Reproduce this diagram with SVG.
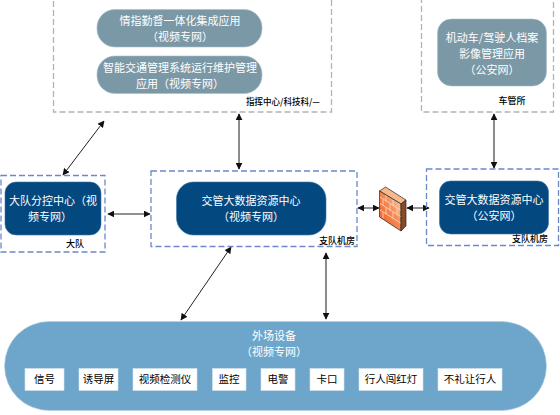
<svg xmlns="http://www.w3.org/2000/svg" width="560" height="415" viewBox="0 0 560 415">
<style>
text{font-family:"Noto Sans CJK SC","Liberation Sans",sans-serif;text-anchor:middle}
.g{fill:none;stroke:#b3b3b3;stroke-width:1.3;stroke-dasharray:6 3}
.b{fill:none;stroke:#6d87c9;stroke-width:1.3;stroke-dasharray:6 3}
.app{fill:#7b98a6;stroke:#a9bdc8;stroke-width:.6}
.core{fill:#03487f;stroke:#3d76a8;stroke-width:.6}
.w{fill:#fff;font-size:11px}
.k{fill:#000;font-size:9px;font-weight:500}
.it{fill:#fff;stroke:#d5e3ee;stroke-width:.6}
.t{fill:#000;font-size:10.5px}
.c{fill:none;stroke:#666;stroke-width:1.5;marker-start:url(#a);marker-end:url(#a)}
.d{fill:none;stroke:#222;stroke-width:1;marker-start:url(#a);marker-end:url(#a)}
</style>
<defs>
<marker id="a" viewBox="0 0 10 10" refX="9" refY="5" markerWidth="7" markerHeight="7" markerUnits="userSpaceOnUse" orient="auto-start-reverse"><path d="M0 0L10 5L0 10Z" fill="#111"/></marker>
<linearGradient id="fw" x1="0" y1="1" x2="1" y2="0"><stop offset="0" stop-color="#f0581e"/><stop offset=".55" stop-color="#f58a55"/><stop offset="1" stop-color="#f6e6c8"/></linearGradient>
</defs>
<g id="connectors">
<path class="d" d="M104 121L63 175"/>
<path class="c" d="M239 114V169"/>
<path class="d" d="M108 214H150"/>
<path class="d" d="M231 247L181 320"/>
<path class="c" d="M326 253V319"/>
<path class="c" d="M494 114V168"/>
<path class="d" d="M358 208H379"/>
<path class="d" d="M407 208H429"/>
</g>
<g id="zone-command">
<rect class="g" x="53.500" y="-1" width="278" height="113"/>
<text class="k" x="283" y="105" textLength="74" lengthAdjust="spacingAndGlyphs">指挥中心/科技科/—</text>
</g>
<g id="node-integrated">
<rect class="app" x="97" y="9.500" width="165" height="37.500" rx="18"/>
<text class="w" x="180" y="25">情指勤督一体化集成应用</text>
<text class="w" x="180" y="41">（视频专网）</text>
</g>
<g id="node-its">
<rect class="app" x="97" y="56" width="165" height="37.500" rx="18"/>
<text class="w" x="180" y="72">智能交通管理系统运行维护管理</text>
<text class="w" x="180" y="88">应用（视频专网）</text>
</g>
<g id="zone-vehicle">
<rect class="g" x="421.500" y="-1" width="132" height="113"/>
<text class="k" x="512" y="104">车管所</text>
</g>
<g id="node-archive">
<rect class="app" x="437.500" y="19" width="109" height="67" rx="14"/>
<text class="w" x="492" y="42">机动车/驾驶人档案</text>
<text class="w" x="492" y="58">影像管理应用</text>
<text class="w" x="492" y="74">（公安网）</text>
</g>
<g id="zone-brigade">
<rect class="b" x="1" y="175.500" width="104" height="76.500"/>
<text class="k" x="75" y="247">大队</text>
</g>
<g id="node-brigade">
<rect class="core" x="5" y="182" width="96" height="53" rx="11"/>
<text class="w" x="53" y="205">大队分控中心（视</text>
<text class="w" x="50" y="221">频专网）</text>
</g>
<g id="zone-center">
<rect class="b" x="151" y="171" width="206" height="75.500"/>
<text class="k" x="337" y="244">支队机房</text>
</g>
<g id="node-center">
<rect class="core" x="176.500" y="182" width="149.500" height="53" rx="17"/>
<text class="w" x="251" y="205">交管大数据资源中心</text>
<text class="w" x="251" y="221">（视频专网）</text>
</g>
<g id="firewall">
<path d="M379.500 191L385.500 187L406 200L401 204Z" fill="#f6b98e" stroke="#222" stroke-width=".7"/>
<path d="M379.500 191L401 204V231L379.500 217Z" fill="url(#fw)" stroke="#222" stroke-width=".7"/>
<path d="M401 204L406 200V226L401 231Z" fill="#8a4a22" stroke="#222" stroke-width=".7"/>
<path d="M380 197L400.500 210M380 203.500L400.500 216.500M380 210L400.500 223M386 195.500V201.500M393 200V206M383 199.500V205.500M390 204V210.500M397 208.500V214.500M386 207.500V214M393 212V218.500M383 212V218" stroke="#fbdcc6" stroke-width=".8" fill="none"/>
</g>
<g id="zone-public">
<rect class="b" x="426.500" y="169" width="132" height="76.500"/>
<text class="k" x="530" y="242">支队机房</text>
</g>
<g id="node-public">
<rect class="core" x="439.500" y="181" width="109" height="53" rx="11"/>
<text class="w" x="494" y="204">交管大数据资源中心</text>
<text class="w" x="494" y="220">（公安网）</text>
</g>
<g id="node-field">
<rect x="4.500" y="321.500" width="542" height="89" rx="44.500" fill="#6ea6cb" stroke="#b5d2e4" stroke-width=".6"/>
<text class="w" x="274" y="340">外场设备</text>
<text class="w" x="274" y="356">（视频专网）</text>
</g>
<g id="item-1"><rect class="it" x="25" y="368.500" width="39" height="22"/><text class="t" x="44.500" y="383">信号</text></g>
<g id="item-2"><rect class="it" x="79" y="368.500" width="39" height="22"/><text class="t" x="98.500" y="383">诱导屏</text></g>
<g id="item-3"><rect class="it" x="133" y="368.500" width="64" height="22"/><text class="t" x="165" y="383">视频检测仪</text></g>
<g id="item-4"><rect class="it" x="212.500" y="368.500" width="33.500" height="22"/><text class="t" x="229" y="383">监控</text></g>
<g id="item-5"><rect class="it" x="261" y="368.500" width="34" height="22"/><text class="t" x="278" y="383">电警</text></g>
<g id="item-6"><rect class="it" x="310" y="368.500" width="34" height="22"/><text class="t" x="327" y="383">卡口</text></g>
<g id="item-7"><rect class="it" x="359" y="368.500" width="64" height="22"/><text class="t" x="391" y="383">行人闯红灯</text></g>
<g id="item-8"><rect class="it" x="438" y="368.500" width="64" height="22"/><text class="t" x="470" y="383">不礼让行人</text></g>
</svg>
